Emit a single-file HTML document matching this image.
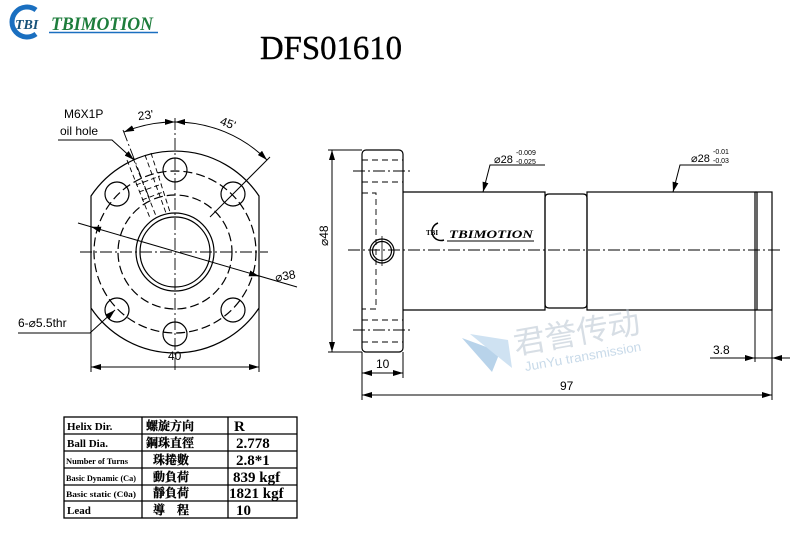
<!DOCTYPE html>
<html><head><meta charset="utf-8"><style>
body{margin:0;background:#fff;width:800px;height:558px;overflow:hidden}
svg{display:block}
</style></head><body>
<svg width="800" height="558" viewBox="0 0 800 558" xmlns="http://www.w3.org/2000/svg" font-family="Liberation Sans, sans-serif">
<defs>
<marker id="a" viewBox="0 0 10 6" refX="10" refY="3" markerWidth="10" markerHeight="6" orient="auto-start-reverse" markerUnits="userSpaceOnUse"><path d="M0,0 L10,3 L0,6 Z" fill="#000"/></marker>
</defs>
<!-- logo -->
<path d="M36,10 A15,15 0 1 0 36,34" fill="none" stroke="#1a6fc0" stroke-width="5"/>
<text x="15" y="29" font-family="Liberation Serif, serif" font-weight="bold" font-style="italic" font-size="14" fill="#17527a">TBI</text>
<text x="51" y="30" font-family="Liberation Serif, serif" font-weight="bold" font-style="italic" font-size="19" fill="#1e7d3c" textLength="102" lengthAdjust="spacingAndGlyphs">TBIMOTION</text>
<line x1="49" y1="32.5" x2="158" y2="32.5" stroke="#1a6fc0" stroke-width="1.5"/>
<!-- title -->
<text x="260" y="59" font-family="Liberation Serif, serif" font-size="34" fill="#000" stroke="#000" stroke-width="0.4" textLength="142" lengthAdjust="spacingAndGlyphs">DFS01610</text>

<g fill="none" stroke="#000" stroke-width="1.2">
<!-- front view -->
<path d="M91,196 A101,101 0 0 1 259,196 L259,308 A101,101 0 0 1 91,308 Z"/>
<circle cx="175" cy="252" r="81" stroke-dasharray="9,4"/>
<circle cx="175" cy="252" r="57" stroke-dasharray="9,4"/>
<circle cx="175" cy="252" r="39"/>
<circle cx="175" cy="252" r="35"/>
<circle cx="175" cy="170" r="12"/><circle cx="175" cy="334" r="12"/>
<circle cx="117" cy="194" r="12"/><circle cx="233" cy="194" r="12"/>
<circle cx="117" cy="310" r="12"/><circle cx="233" cy="310" r="12"/>
<g stroke-width="0.9" stroke-dasharray="12,3,2,3">
<line x1="80" y1="252" x2="268" y2="252"/>
<line x1="175" y1="118" x2="175" y2="372"/>
</g>
<!-- oil hole -->
<g stroke-width="0.9" stroke-dasharray="5,3">
<line x1="127" y1="160" x2="150" y2="218"/>
<line x1="133" y1="158" x2="156" y2="216"/>
<line x1="145" y1="155" x2="166" y2="213"/>
<line x1="151" y1="153" x2="170" y2="212"/>
<line x1="136" y1="185" x2="160" y2="176"/>
<line x1="139" y1="192" x2="162" y2="184"/>
<line x1="142" y1="200" x2="163" y2="192"/>
</g>
<line x1="123" y1="130" x2="150" y2="200" stroke-width="0.9" stroke-dasharray="12,3,2,3"/>
<!-- angle arcs -->
<path d="M124,132 A130,130 0 0 1 175,122" marker-start="url(#a)" marker-end="url(#a)" stroke-width="1"/>
<path d="M175,122 A130,130 0 0 1 267,160" marker-start="url(#a)" marker-end="url(#a)" stroke-width="1"/>
<line x1="210" y1="217" x2="270" y2="157" stroke-width="1"/>
<!-- leaders -->
<polyline points="58,140 112,140 134,160" marker-end="url(#a)" stroke-width="1"/>
<line x1="78" y1="223" x2="297" y2="287" stroke-width="1"/>
<line x1="250" y1="273.5" x2="259" y2="276.2" marker-end="url(#a)" stroke-width="1"/>
<line x1="100" y1="229.4" x2="91" y2="226.8" marker-end="url(#a)" stroke-width="1"/>
<polyline points="18,333 90,333 115,310" marker-end="url(#a)" stroke-width="1"/>
<!-- dim 40 -->
<line x1="91" y1="308" x2="91" y2="372" stroke-width="1"/>
<line x1="259" y1="308" x2="259" y2="372" stroke-width="1"/>
<line x1="91" y1="367" x2="259" y2="367" marker-start="url(#a)" marker-end="url(#a)" stroke-width="1"/>

<!-- side view -->
<rect x="362" y="150" width="41" height="202" rx="4"/>
<path d="M403,192 L545,192 L545,310 L403,310"/>
<path d="M549,194 L583,194 Q587,194 587,198 L587,304 Q587,308 583,308 L549,308 Q545,308 545,304 L545,198 Q545,194 549,194Z"/>
<rect x="587" y="192" width="168" height="118"/>
<rect x="757" y="192" width="15" height="118"/>
<line x1="755" y1="192" x2="757" y2="192"/><line x1="755" y1="310" x2="757" y2="310"/>
<g stroke-width="0.9" stroke-dasharray="6,4">
<line x1="362" y1="160" x2="403" y2="160"/><line x1="362" y1="182" x2="403" y2="182"/>
<line x1="362" y1="320" x2="403" y2="320"/><line x1="362" y1="342" x2="403" y2="342"/>
<polyline points="362,193 376,193 376,309 362,309"/>
</g>
<g stroke-width="0.9" stroke-dasharray="12,3,2,3">
<line x1="353" y1="171" x2="412" y2="171"/><line x1="353" y1="330" x2="412" y2="330"/>
<line x1="348" y1="250" x2="780" y2="250"/>
</g>
<circle cx="382" cy="251" r="12"/><circle cx="382" cy="251" r="9.5"/>
<line x1="382" y1="236" x2="382" y2="266" stroke-width="0.8"/>
<!-- phi48 -->
<line x1="328" y1="150" x2="362" y2="150" stroke-width="1"/>
<line x1="328" y1="352" x2="362" y2="352" stroke-width="1"/>
<line x1="332" y1="150" x2="332" y2="352" marker-start="url(#a)" marker-end="url(#a)" stroke-width="1"/>
<!-- 10 / 97 -->
<line x1="362" y1="352" x2="362" y2="400" stroke-width="1"/>
<line x1="403" y1="352" x2="403" y2="378" stroke-width="1"/>
<line x1="362" y1="373" x2="403" y2="373" marker-start="url(#a)" marker-end="url(#a)" stroke-width="1"/>
<line x1="772" y1="310" x2="772" y2="400" stroke-width="1"/>
<line x1="755" y1="310" x2="755" y2="362" stroke-width="1"/>
<line x1="362" y1="395" x2="772" y2="395" marker-start="url(#a)" marker-end="url(#a)" stroke-width="1"/>
<!-- 3.8 -->
<line x1="710" y1="358" x2="755" y2="358" marker-end="url(#a)" stroke-width="1"/>
<line x1="790" y1="358" x2="772" y2="358" marker-end="url(#a)" stroke-width="1"/>
<line x1="755" y1="358" x2="772" y2="358" stroke-width="1"/>
<!-- phi28 leaders -->
<polyline points="545,165 490,165 483,192" marker-end="url(#a)" stroke-width="1"/>
<polyline points="722,165 680,165 673,192" marker-end="url(#a)" stroke-width="1"/>
</g>

<!-- body logo -->
<path d="M438,223 A9,9 0 1 0 444,240" fill="none" stroke="#000" stroke-width="1.5"/>
<text x="426" y="235" font-family="Liberation Serif, serif" font-weight="bold" font-size="7" fill="#000">TBI</text>
<text x="449" y="238" font-family="Liberation Serif, serif" font-weight="bold" font-style="italic" font-size="12" fill="#000" textLength="84" lengthAdjust="spacingAndGlyphs">TBIMOTION</text>
<line x1="447" y1="241" x2="534" y2="241" stroke="#000" stroke-width="1"/>

<!-- watermark -->
<g opacity="0.55">
<path d="M462,338 L492,372 L500,352 Z" fill="#7fb0da"/>
<path d="M470,334 L508,340 L512,368 Z" fill="#a9cce8"/>
<g transform="rotate(-10 575 335)">
<text x="513" y="344" font-family="Noto Sans CJK SC, sans-serif" font-size="31" fill="#b8c4d0" textLength="128" lengthAdjust="spacingAndGlyphs">君誉传动</text>
<text x="520" y="362" font-size="13" fill="#9cbcd8" textLength="118" lengthAdjust="spacingAndGlyphs">JunYu transmission</text>
</g>
</g>

<!-- labels -->
<g fill="#000" font-size="12">
<text x="64" y="118">M6X1P</text>
<text x="60" y="135">oil hole</text>
<text x="138" y="120" transform="rotate(-8 140 117)">23'</text>
<text x="220" y="128" transform="rotate(20 230 124)">45'</text>
<text x="275" y="280" transform="rotate(-10 285 276)">⌀38</text>
<text x="18" y="327">6-⌀5.5thr</text>
<text x="168" y="360">40</text>
<text x="376" y="368">10</text>
<text x="560" y="390">97</text>
<text x="713" y="354">3.8</text>
<text x="328" y="258" transform="rotate(-90 322 252)">⌀48</text>
<text x="494" y="163" font-size="11">⌀28</text>
<text x="516" y="155" font-size="7">-0.009</text>
<text x="516" y="164" font-size="7">-0.025</text>
<text x="691" y="162" font-size="11">⌀28</text>
<text x="713" y="154" font-size="7">-0.01</text>
<text x="713" y="163" font-size="7">-0.03</text>
</g>

<!-- table -->
<g stroke="#000" stroke-width="1.3" fill="none">
<rect x="64" y="417" width="233" height="101"/>
<line x1="142" y1="417" x2="142" y2="518"/><line x1="228" y1="417" x2="228" y2="518"/>
<line x1="64" y1="434" x2="297" y2="434"/><line x1="64" y1="451" x2="297" y2="451"/>
<line x1="64" y1="468" x2="297" y2="468"/><line x1="64" y1="485" x2="297" y2="485"/>
<line x1="64" y1="501" x2="297" y2="501"/>
</g>
<g fill="#000" font-family="Liberation Serif, serif" font-weight="bold">
<text x="67" y="430" font-size="11">Helix  Dir.</text>
<text x="67" y="447" font-size="11">Ball Dia.</text>
<text x="66" y="464" font-size="8" textLength="62" lengthAdjust="spacingAndGlyphs">Number of Turns</text>
<text x="66" y="481" font-size="8" textLength="70" lengthAdjust="spacingAndGlyphs">Basic Dynamic (Ca)</text>
<text x="66" y="497" font-size="8" textLength="70" lengthAdjust="spacingAndGlyphs">Basic static (C0a)</text>
<text x="67" y="514" font-size="11">Lead</text>
<g font-family="Noto Serif CJK SC, serif" font-size="12" stroke="#000" stroke-width="0.3">
<text x="146" y="430">螺旋方向</text>
<text x="146" y="447">鋼珠直徑</text>
<text x="153" y="464">珠捲數</text>
<text x="153" y="481">動負荷</text>
<text x="153" y="497">靜負荷</text>
<text x="153" y="514">導　程</text>
</g>
<g font-size="15" font-weight="bold">
<text x="234" y="431">R</text>
<text x="236" y="448">2.778</text>
<text x="236" y="465">2.8*1</text>
<text x="233" y="482">839 kgf</text>
<text x="229" y="498">1821 kgf</text>
<text x="236" y="515">10</text>
</g>
</g>
</svg>
</body></html>
